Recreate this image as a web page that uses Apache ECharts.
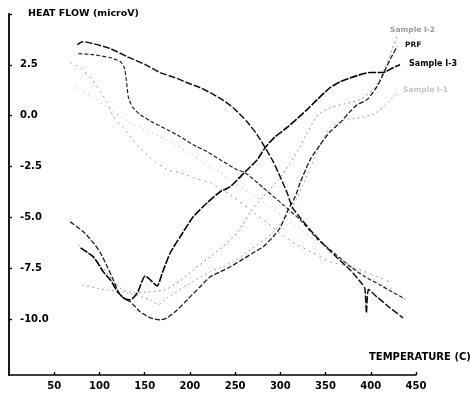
<!DOCTYPE html>
<html>
<head>
<meta charset="utf-8">
<script src="https://cdn.jsdelivr.net/npm/echarts@6/dist/echarts.min.js"></script>
<style>
  html, body { margin: 0; padding: 0; background: #fff; }
  #chart { width: 471px; height: 395px; }
</style>
</head>
<body>
<div id="chart"></div>
<script>
// Temperature (C) / heat flow (microV) pairs for each trace
const sampleI3Heat = [
  [79, -6.50], [93.3, -6.94], [104.3, -7.68], [112, -8.07], [120.9, -8.71], [128.6, -9.01],
  [134.1, -9.05], [141.9, -8.71], [150.7, -7.87], [156.2, -8.07], [163.9, -8.37], [169.5, -7.73],
  [178.3, -6.74], [189.3, -5.95], [203.7, -4.97], [219.2, -4.28], [233.5, -3.74], [244.6, -3.49],
  [261.1, -2.76], [274.4, -2.17], [283.2, -1.57], [294.3, -1.03], [308.6, -0.54], [329.6, 0.30],
  [340.7, 0.79], [355, 1.38], [366.1, 1.67], [384.8, 1.97], [399.2, 2.12], [413.6, 2.12],
  [424.6, 2.36], [432.3, 2.51]
];
const prfHeat = [
  [67.8, -5.22], [82.2, -5.71], [93.3, -6.25], [101, -6.74], [108.7, -7.43], [115.3, -8.07],
  [120.9, -8.66], [126.4, -8.96], [134.1, -9.15], [145.2, -9.65], [156.2, -9.94], [167.3, -10.04],
  [175, -9.94], [186, -9.55], [197.1, -9.05], [211.4, -8.41], [222.5, -7.92], [233.5, -7.68],
  [244.6, -7.43], [255.6, -7.14], [270, -6.74], [281, -6.45], [292.1, -5.95], [299.8, -5.51],
  [308.6, -4.63], [316.4, -3.99], [321.9, -3.30], [332.9, -2.17], [344, -1.43], [355, -0.79],
  [366.1, -0.34], [377.1, 0.20], [384.8, 0.54], [395.9, 0.79], [406.9, 1.43], [413.6, 2.02],
  [421.3, 2.76], [429.1, 3.40]
];
const sampleI1Heat = [
  [81.1, -8.32], [101, -8.51], [130.8, -8.71], [156.2, -9.05], [165, -9.30], [175, -8.96],
  [197.1, -8.32], [222.5, -7.68], [247.9, -7.18], [266.7, -6.59], [288.7, -5.86], [310.8, -4.72],
  [327.4, -3.15], [341.8, -1.67], [355, -0.59], [371.6, -0.20], [388.2, -0.10], [404.7, 0.10],
  [419.1, 0.64], [430.1, 1.18]
];
const sampleI2Heat = [
  [76.7, -6.35], [89.9, -6.84], [101, -7.33], [114.2, -8.07], [125.3, -8.56], [139.6, -8.71],
  [156.2, -8.66], [172.8, -8.56], [189.3, -8.12], [203.7, -7.58], [222.5, -6.94], [241.3, -6.25],
  [252.3, -5.76], [268.9, -4.63], [279.9, -4.04], [299.8, -3.05], [321.9, -1.53], [329.6, -0.84],
  [341.8, 0.05], [355, 0.39], [371.6, 0.59], [388.2, 0.79], [404.7, 1.38], [415.8, 2.36],
  [423.5, 3.25], [429.1, 3.89]
];
const prfCool = [
  [75.6, 3.49], [81.1, 3.64], [93.3, 3.54], [112, 3.30], [130.8, 2.90], [150.7, 2.51],
  [167.3, 2.12], [183.8, 1.87], [197.1, 1.62], [211.4, 1.38], [222.5, 1.13], [235.7, 0.79],
  [247.9, 0.39], [263.3, -0.30], [274.4, -0.94], [283.2, -1.57], [292.1, -2.26], [299.8, -3.00],
  [307.5, -3.79], [313, -4.48], [321.9, -5.02], [332.9, -5.61], [344, -6.15], [360.5, -6.89],
  [377.1, -7.58], [390, -8.25], [393.5, -8.50], [395.2, -9.70], [397.5, -8.55], [406.9, -8.91],
  [421.3, -9.45], [435.6, -9.94]
];
const sampleI3Cool = [
  [76.7, 3.05], [93.3, 3.00], [112, 2.85], [123.1, 2.66], [127.5, 2.36], [129.7, 1.77],
  [131.9, 0.93], [136.3, 0.44], [145.2, 0.05], [159.5, -0.34], [175, -0.69], [189.3, -1.03],
  [203.7, -1.43], [219.2, -1.77], [233.5, -2.17], [252.3, -2.66], [261.1, -2.80], [281, -3.54],
  [303.1, -4.38], [321.9, -5.12], [341.8, -6.10], [355, -6.59], [379.3, -7.48], [393.7, -7.92],
  [410.2, -8.32], [423.5, -8.66], [437.9, -9.01]
];
const sampleI1Cool = [
  [67.8, 2.61], [78.9, 2.36], [92.1, 1.77], [101, 1.18], [108.7, 0.64], [115.3, -0.05],
  [123.1, -0.44], [130.8, -0.84], [139.6, -1.33], [156.2, -2.07], [175, -2.66], [189.3, -2.80],
  [203.7, -3.05], [222.5, -3.30], [244.6, -3.89], [266.7, -4.63], [285.4, -5.27], [302, -5.86],
  [318.6, -6.35], [336.2, -6.74], [355, -7.18], [373.8, -7.38], [391.5, -7.63], [406.9, -7.92],
  [421.3, -8.17]
];
const sampleI2Cool = [
  [73.4, 1.43], [93.3, 0.89], [112, 0.30], [131.9, -0.30], [156.2, -0.79], [183.8, -1.43],
  [211.4, -2.17], [244.6, -3.15], [277.7, -4.13], [310.8, -5.22], [344, -6.35], [371.6, -7.18],
  [393.7, -7.82], [410.2, -8.22], [426.8, -8.56]
];

// Axis ticks and labels
const xTicks = [50, 100, 150, 200, 250, 300, 350, 400, 450];
const yLabels = [2.5, 0, -2.5, -5, -7.5, -10];
const yTickMarks = [5, 2.5, 0, -2.5, -5, -7.5, -10];

const FONT = '"DejaVu Sans", "Liberation Sans", sans-serif';

function trace(name, data, color, width, dash) {
  return {
    name: name,
    type: 'line',
    data: data,
    showSymbol: false,
    smooth: 0.2,
    silent: true,
    lineStyle: { color: color, width: width, type: dash, cap: 'butt' }
  };
}

const chart = echarts.init(document.getElementById('chart'), null, { renderer: 'canvas' });

chart.setOption({
  animation: false,
  backgroundColor: '#ffffff',
  grid: { left: 9, right: 55, top: 14, bottom: 20, containLabel: false },
  xAxis: {
    type: 'value',
    min: 0,
    max: 450,
    axisLine: { show: true, onZero: false, lineStyle: { color: '#000', width: 1.6 } },
    axisTick: { show: true, inside: true, length: 3, customValues: xTicks,
                lineStyle: { color: '#000', width: 1.4 } },
    axisLabel: { customValues: xTicks, margin: 6, color: '#000',
                 fontFamily: FONT, fontWeight: 'bold', fontSize: 10 },
    splitLine: { show: false }
  },
  yAxis: {
    type: 'value',
    min: -12.75,
    max: 5,
    axisLine: { show: true, onZero: false, lineStyle: { color: '#000', width: 1.8 } },
    axisTick: { show: true, inside: true, length: 3, customValues: yTickMarks,
                lineStyle: { color: '#000', width: 1.4 } },
    axisLabel: { inside: true, customValues: yLabels, margin: 11, color: '#000',
                 fontFamily: FONT, fontWeight: 'bold', fontSize: 10,
                 formatter: function (v) { return Number(v).toFixed(1); } },
    splitLine: { show: false }
  },
  graphic: [
    { type: 'text', left: 28, top: 9,
      style: { text: 'HEAT FLOW (microV)', fill: '#000', font: 'bold 9.5px ' + FONT } },
    { type: 'text', left: 369, top: 352,
      style: { text: 'TEMPERATURE (C)', fill: '#000', font: 'bold 10px ' + FONT } },
    { type: 'text', left: 390, top: 26,
      style: { text: 'Sample I-2', fill: '#9a9a9a', font: 'bold 7.5px ' + FONT } },
    { type: 'text', left: 405, top: 41,
      style: { text: 'PRF', fill: '#111', font: 'bold 7.5px ' + FONT } },
    { type: 'text', left: 409, top: 60,
      style: { text: 'Sample I-3', fill: '#000', font: 'bold 8px ' + FONT } },
    { type: 'text', left: 403, top: 86,
      style: { text: 'Sample I-1', fill: '#c4c4c4', font: 'bold 7.5px ' + FONT } }
  ],
  series: [
    trace('Sample I-2 heating', sampleI2Heat, '#9a9a9a', 1, [2, 3]),
    trace('Sample I-1 heating', sampleI1Heat, '#a8a8a8', 1, [2, 3]),
    trace('Sample I-1 cooling', sampleI1Cool, '#a0a0a0', 1, [2, 4]),
    trace('Sample I-2 cooling', sampleI2Cool, '#b4b4b4', 1, [1, 4]),
    trace('PRF heating', prfHeat, '#1a1a1a', 1.3, [5, 2]),
    trace('Sample I-3 cooling', sampleI3Cool, '#222', 1.2, [4, 2]),
    trace('PRF cooling', prfCool, '#111', 1.5, [7, 2]),
    trace('Sample I-3 heating', sampleI3Heat, '#000', 1.6, [8, 1.5])
  ]
});
</script>
</body>
</html>
